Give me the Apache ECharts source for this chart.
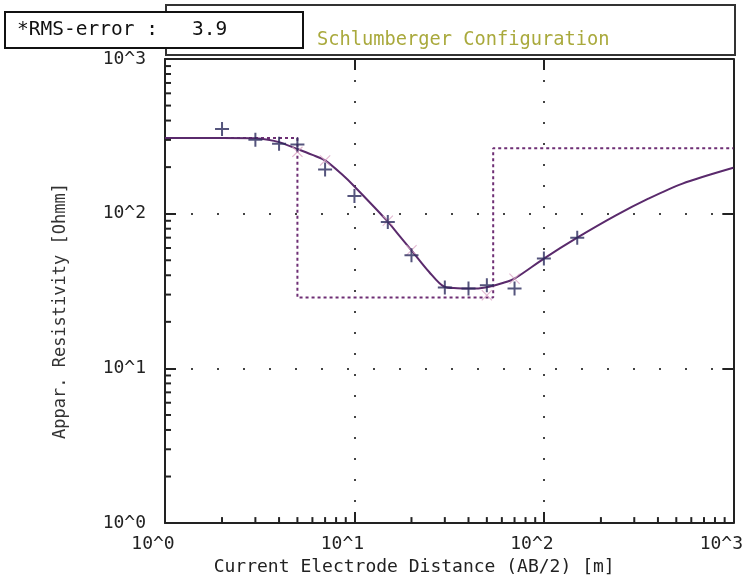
<!DOCTYPE html>
<html>
<head>
<meta charset="utf-8">
<script src="https://cdn.jsdelivr.net/npm/echarts@6/dist/echarts.min.js"></script>
<style>html,body{margin:0;padding:0;background:#fff;}#c{width:746px;height:581px;}</style>
</head>
<body>
<div id="c"></div>
<script>
// ---- data ----
const abHalf = [2, 3, 4, 5, 7, 10, 15, 20, 30, 40, 50, 70, 100, 150];
const rhoObserved = [353, 301, 283, 280, 193, 130, 88.4, 53.8, 33.3, 32.8, 34.5, 32.8, 51.3, 70];
const calcX = [5, 7, 15, 20, 50, 70];
const rhoCalc = [251, 221, 90, 58, 29.7, 38];
const curveX = [1, 2, 3, 3.5, 4, 5, 6, 7, 8.7, 10, 14.8, 17.2, 20, 24.8, 29.8, 35, 39.5, 45, 51.5, 60, 70, 100, 150, 240, 356, 535, 1000];
const curveRho = [308, 308, 307, 301, 290, 262, 240, 221, 177, 150, 90.5, 72.4, 58, 42, 33.7, 33, 32.8, 32.9, 33.7, 35.5, 38.1, 51.3, 70, 97.5, 125, 156, 198];
const layerRho = [308, 28.7, 265];
const layerDepth = [5, 54];
const xTickLabels = ['10^0', '10^1', '10^2', '10^3'];
const yTickLabels = ['10^0', '10^1', '10^2', '10^3'];
const minorTicks = [2, 3, 4, 5, 6, 7, 8, 9, 20, 30, 40, 50, 60, 70, 80, 90, 200, 300, 400, 500, 600, 700, 800, 900];
const rmsError = '3.9';
const titleText = 'Schlumberger Configuration';

// model step line built from layers
const modelLine = [];
let prevX = 1;
for (let i = 0; i < layerRho.length; i++) {
  const endX = i < layerDepth.length ? layerDepth[i] : 1000;
  modelLine.push([prevX, layerRho[i]]);
  modelLine.push([endX, layerRho[i]]);
  prevX = endX;
}

const FONT = 'DejaVu Sans Mono';

const chart = echarts.init(document.getElementById('c'), null, {renderer: 'canvas'});
const plusPath = 'path://M6,0H8V6H14V8H8V14H6V8H0V6H6Z';
const crossPath = 'path://M0,1L1,0L7,6L13,0L14,1L8,7L14,13L13,14L7,8L1,14L0,13L6,7Z';

const logAxisBase = {
  type: 'log', logBase: 10, min: 1, max: 1000,
  axisLine: {show: true, lineStyle: {color: '#222', width: 2}},
  axisTick: {show: true, inside: true, length: 11, lineStyle: {color: '#222', width: 2}},
  minorTick: {show: false}
};

chart.setOption({
  animation: false,
  backgroundColor: '#ffffff',
  grid: {left: 165, right: 12, top: 59, bottom: 56, containLabel: false},
  xAxis: [
    Object.assign({}, logAxisBase, {
      position: 'bottom',
      name: 'Current Electrode Distance (AB/2) [m]', nameLocation: 'middle', nameGap: 34,
      nameTextStyle: {fontFamily: FONT, fontSize: 18, color: '#222', padding: [0, 70, 0, 0]},
      axisLabel: {fontFamily: FONT, fontSize: 18, color: '#222', margin: 12, padding: [0, 24, 0, 0],
        formatter: v => xTickLabels[Math.round(Math.log10(v))], showMaxLabel: true, showMinLabel: true},
      splitLine: {show: true, lineStyle: {color: '#444', width: 2, type: [2, 19]}}
    }),
    Object.assign({}, logAxisBase, {
      position: 'top', axisLabel: {show: false}, splitLine: {show: false}
    })
  ],
  yAxis: [
    Object.assign({}, logAxisBase, {
      position: 'left',
      name: 'Appar. Resistivity [Ohmm]', nameLocation: 'middle', nameGap: 96, nameRotate: 90,
      nameTextStyle: {fontFamily: FONT, fontSize: 17, color: '#333', padding: [0, 40, 0, 0]},
      axisLabel: {fontFamily: FONT, fontSize: 18, color: '#222', margin: 19,
        formatter: v => yTickLabels[Math.round(Math.log10(v))]},
      splitLine: {show: true, lineStyle: {color: '#444', width: 2, type: [2, 24]}}
    }),
    Object.assign({}, logAxisBase, {
      position: 'right', axisLabel: {show: false}, splitLine: {show: false}
    })
  ],
  graphic: [
    {type: 'rect', z: 10, shape: {x: 166, y: 5, width: 569, height: 50}, style: {fill: '#fff', stroke: '#333', lineWidth: 2}},
    {type: 'text', z: 12, left: 317, top: 31, style: {text: titleText, fill: '#a9a93c', font: '18.7px "' + FONT + '"'}},
    {type: 'rect', z: 20, shape: {x: 5, y: 12, width: 298, height: 36}, style: {fill: '#fff', stroke: '#111', lineWidth: 2}},
    {type: 'text', z: 21, left: 17, top: 20, style: {text: '*RMS-error :', fill: '#111', font: '19.5px "' + FONT + '"'}},
    {type: 'text', z: 21, left: 192, top: 20, style: {text: rmsError, fill: '#111', font: '19.5px "' + FONT + '"'}}
  ],
  series: [
    {
      type: 'line', name: 'model', data: modelLine, showSymbol: false,
      lineStyle: {color: '#6e2e74', width: 2, type: [3, 3]}, z: 3
    },
    {
      type: 'line', name: 'fit', data: curveX.map((x, i) => [x, curveRho[i]]), showSymbol: false, smooth: 0.3,
      lineStyle: {color: '#5a2a6c', width: 2}, z: 4
    },
    {
      type: 'scatter', name: 'calc', data: calcX.map((x, i) => [x, rhoCalc[i]]),
      symbol: crossPath, symbolSize: 11, itemStyle: {color: '#dba6c6'}, z: 5
    },
    {
      type: 'scatter', name: 'observed', data: abHalf.map((x, i) => [x, rhoObserved[i]]),
      symbol: plusPath, symbolSize: 14, itemStyle: {color: '#2a2a5c'}, z: 6
    },
    {
      type: 'custom', name: 'xminor', data: minorTicks.map(v => [v, 1]), clip: false, z: 7,
      renderItem: (params, api) => {
        const p = api.coord([api.value(0), api.value(1)]);
        return {type: 'line', shape: {x1: p[0], y1: p[1], x2: p[0], y2: p[1] - 6}, style: {stroke: '#222', lineWidth: 2}};
      }
    },
    {
      type: 'custom', name: 'yminor', data: minorTicks.map(v => [1, v]), clip: false, z: 7,
      renderItem: (params, api) => {
        const p = api.coord([api.value(0), api.value(1)]);
        return {type: 'line', shape: {x1: p[0], y1: p[1], x2: p[0] + 6, y2: p[1]}, style: {stroke: '#222', lineWidth: 2}};
      }
    }
  ]
});
</script>
</body>
</html>
